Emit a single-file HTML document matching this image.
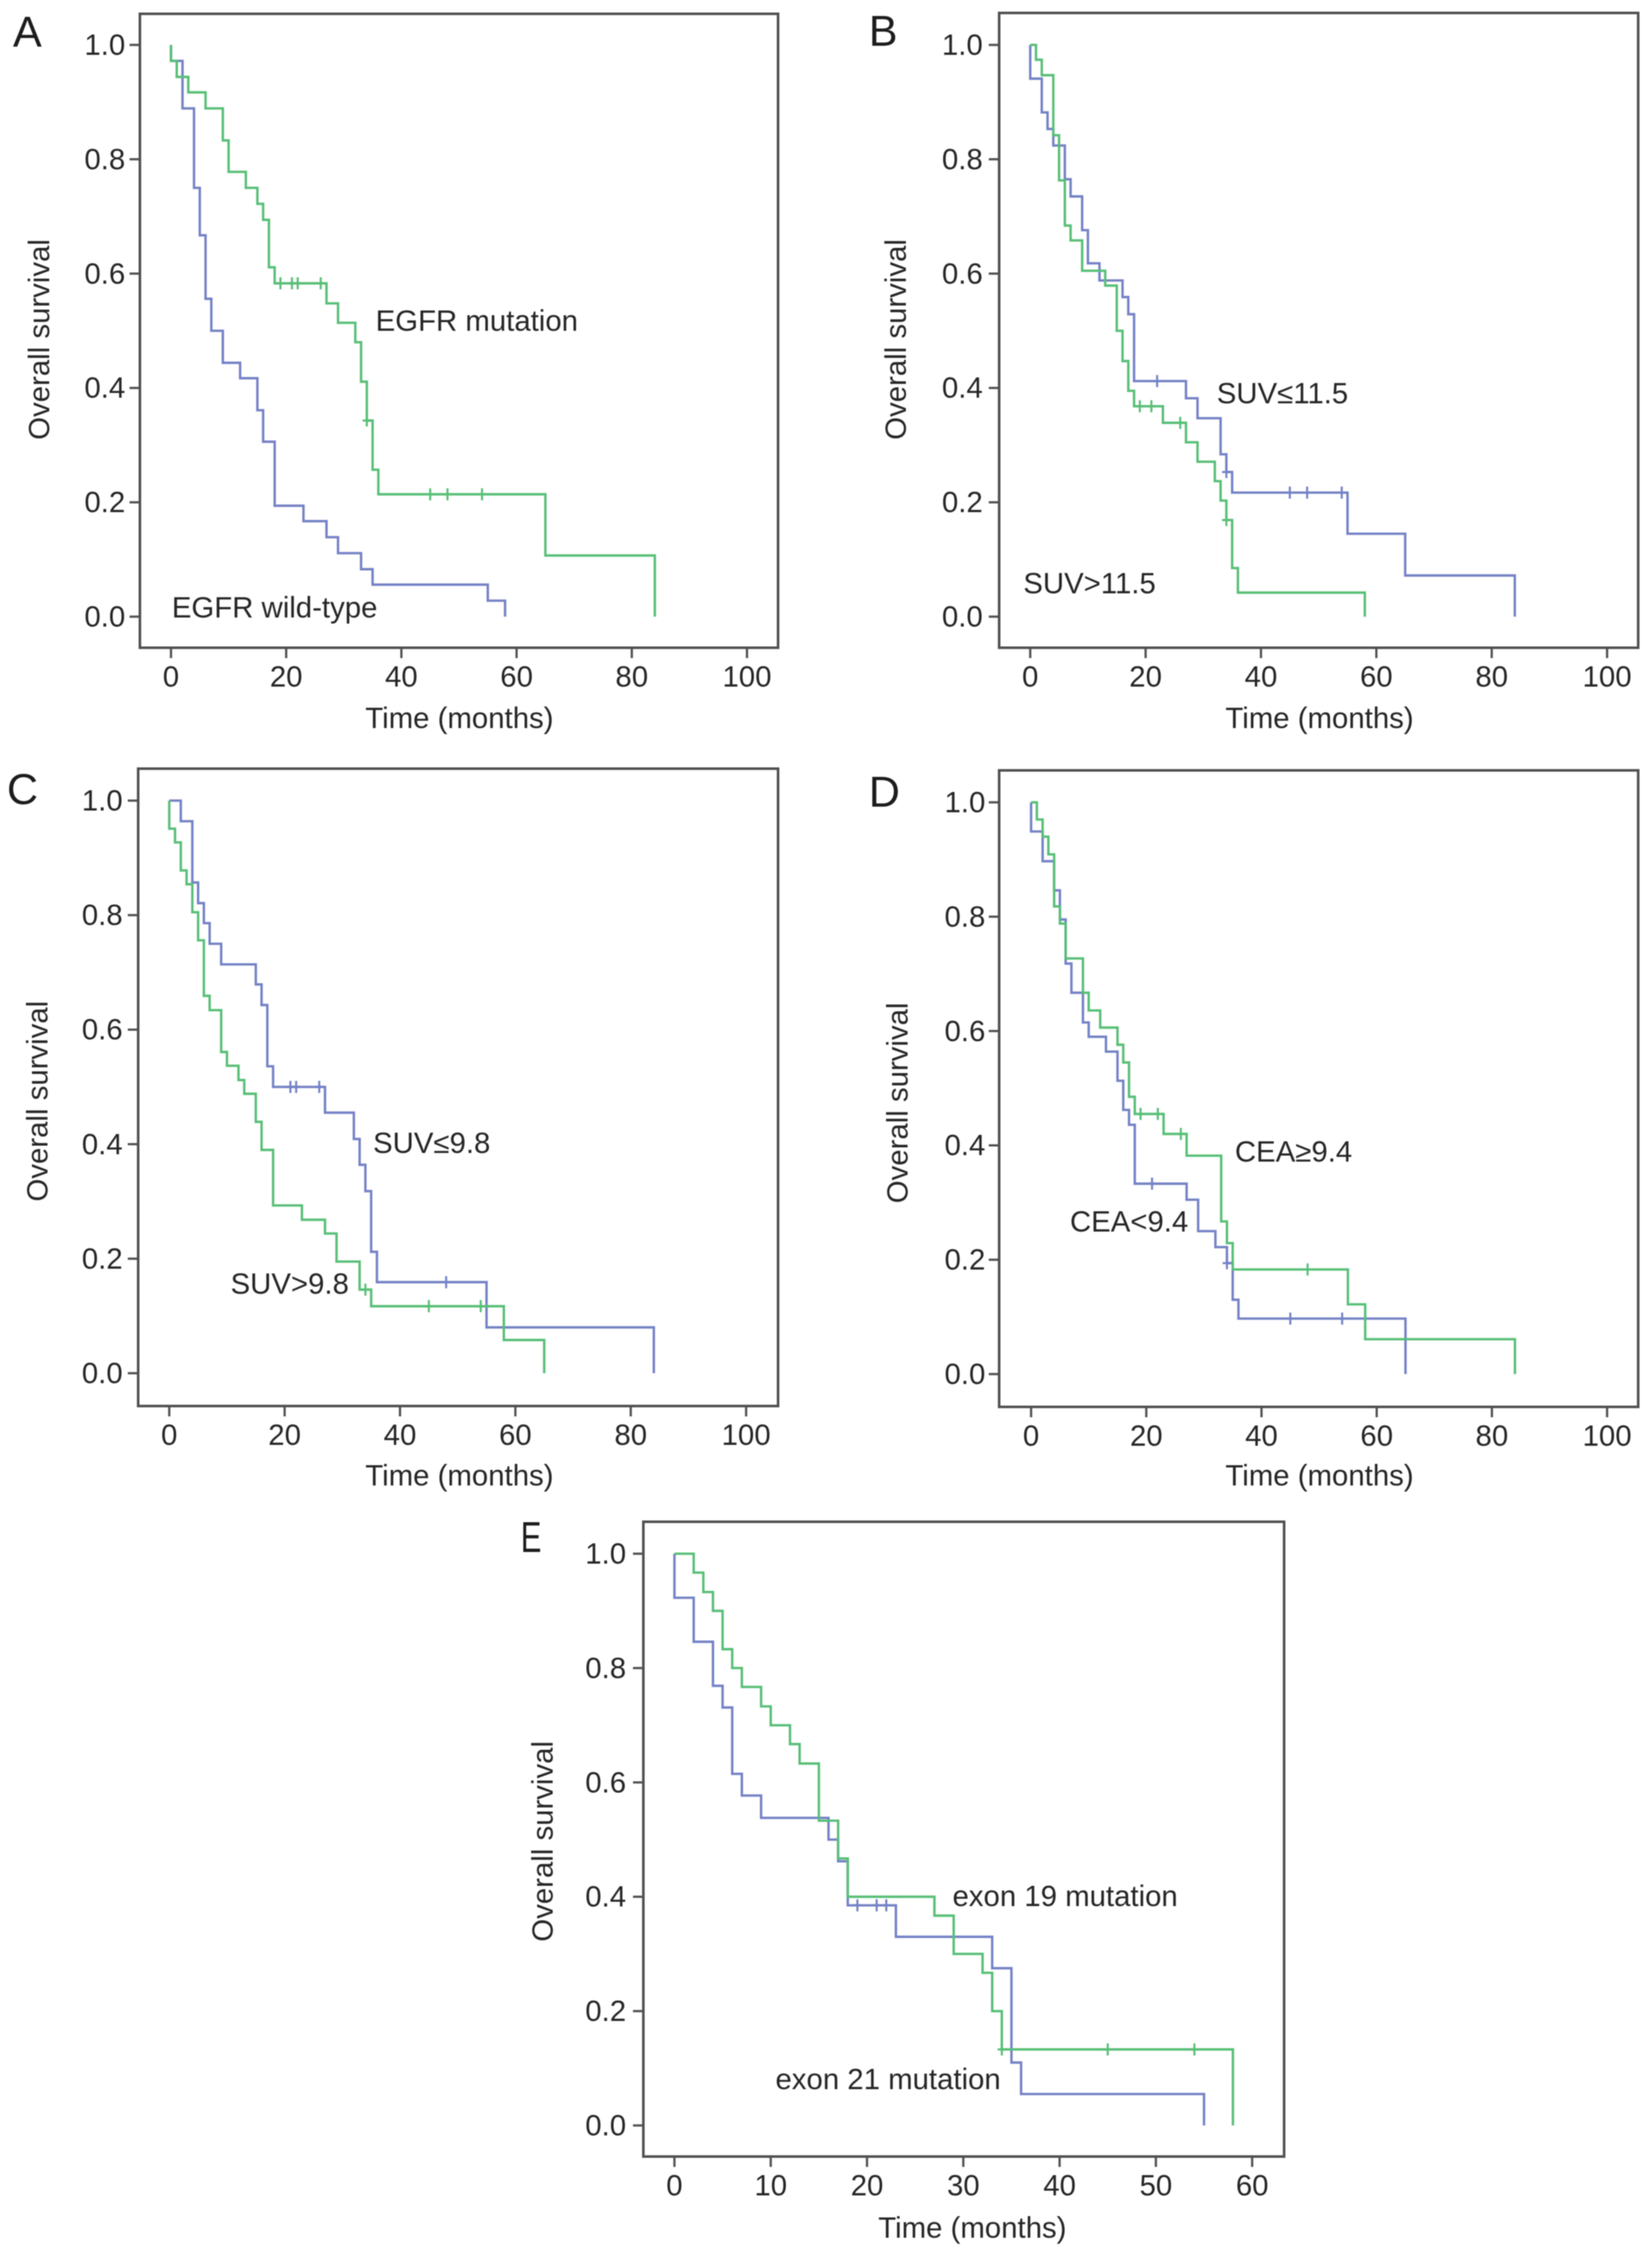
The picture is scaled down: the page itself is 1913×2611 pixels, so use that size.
<!DOCTYPE html>
<html lang="en">
<head>
<meta charset="utf-8">
<title>Overall survival Kaplan-Meier curves</title>
<style>
html,body{margin:0;padding:0;background:#fff;}
svg{display:block;filter:blur(0.55px);}
text{font-family:"Liberation Sans",sans-serif;fill:#262626;font-size:34px;}
.letter{font-size:50px;fill:#1c1c1c;}
.frame{fill:none;stroke:#505050;stroke-width:3;}
.tick{stroke:#505050;stroke-width:2.6;}
.curve{fill:none;stroke-width:2.8;stroke-linejoin:miter;}
.censor{fill:none;stroke-width:2.4;}
.green{stroke:#58bf77;}
.blue{stroke:#7482c6;}
</style>
</head>
<body>
<svg id="figure" xmlns="http://www.w3.org/2000/svg" width="1913" height="2611" viewBox="0 0 1913 2611">
  <rect x="0" y="0" width="1913" height="2611" fill="#ffffff"/>

  <g id="panel-a">
    <rect class="frame" x="162" y="16" width="739" height="734"/>
    <text class="letter" x="15" y="54">A</text>
    <text text-anchor="middle" transform="translate(57,393) rotate(-90)">Overall survival</text>
    <text text-anchor="middle" x="532" y="843">Time (months)</text>
    <text x="435" y="383">EGFR mutation</text>
    <text x="199" y="715">EGFR wild-type</text>
  </g>

  <g id="panel-b">
    <rect class="frame" x="1157" y="15" width="740" height="735"/>
    <text class="letter" x="1006" y="53">B</text>
    <text text-anchor="middle" transform="translate(1049,393) rotate(-90)">Overall survival</text>
    <text text-anchor="middle" x="1528" y="843">Time (months)</text>
    <text x="1409" y="467">SUV≤11.5</text>
    <text x="1185" y="687">SUV&gt;11.5</text>
  </g>

  <g id="panel-c">
    <rect class="frame" x="160" y="890" width="741" height="738"/>
    <text class="letter" x="8" y="931">C</text>
    <text text-anchor="middle" transform="translate(55,1275) rotate(-90)">Overall survival</text>
    <text text-anchor="middle" x="532" y="1720">Time (months)</text>
    <text x="432" y="1335">SUV≤9.8</text>
    <text x="267" y="1498">SUV&gt;9.8</text>
  </g>

  <g id="panel-d">
    <rect class="frame" x="1157" y="892" width="740" height="737"/>
    <text class="letter" x="1006" y="934">D</text>
    <text text-anchor="middle" transform="translate(1051,1277) rotate(-90)">Overall survival</text>
    <text text-anchor="middle" x="1528" y="1720">Time (months)</text>
    <text x="1430" y="1345">CEA≥9.4</text>
    <text x="1239" y="1426">CEA&lt;9.4</text>
  </g>

  <g id="panel-e">
    <rect class="frame" x="745" y="1762" width="742" height="735"/>
    <text class="letter" x="603" y="1797" textLength="24" lengthAdjust="spacingAndGlyphs">E</text>
    <text text-anchor="middle" transform="translate(640,2132) rotate(-90)">Overall survival</text>
    <text text-anchor="middle" x="1126" y="2591">Time (months)</text>
    <text x="1103" y="2207">exon 19 mutation</text>
    <text x="898" y="2419">exon 21 mutation</text>
  </g>
</svg>

<script>
// Shared tick labels
const survivalTicks = [0, 0.2, 0.4, 0.6, 0.8, 1.0];
const timeTicks100 = [0, 20, 40, 60, 80, 100];
const timeTicks60 = [0, 10, 20, 30, 40, 50, 60];

// Panel A
const aGreenTimes = [0, 1, 3, 6, 9, 10, 13, 15, 16, 17, 18, 27, 29, 32, 33, 34, 35, 36, 65, 84];
const aGreenSurvival = [0.972, 0.944, 0.917, 0.889, 0.833, 0.778, 0.75, 0.722, 0.694, 0.611, 0.583, 0.548, 0.514, 0.48, 0.411, 0.343, 0.257, 0.214, 0.107, 0];
const aGreenCensored = [19, 21, 22, 26, 34, 45, 48, 54];
const aBlueTimes = [0, 2, 4, 5, 6, 7, 9, 12, 15, 16, 18, 23, 27, 29, 33, 35, 55, 58];
const aBlueSurvival = [0.972, 0.889, 0.75, 0.667, 0.556, 0.5, 0.444, 0.417, 0.361, 0.306, 0.194, 0.167, 0.139, 0.111, 0.083, 0.056, 0.028, 0];
const aBlueCensored = [];

// Panel B
const bBlueTimes = [0, 2, 3, 4, 6, 7, 9, 10, 12, 16, 17, 18, 27, 29, 33, 34, 35, 55, 65, 84];
const bBlueSurvival = [0.941, 0.882, 0.853, 0.824, 0.765, 0.735, 0.676, 0.618, 0.588, 0.559, 0.529, 0.412, 0.382, 0.347, 0.284, 0.253, 0.217, 0.145, 0.072, 0];
const bBlueCensored = [22, 34, 45, 48, 54];
const bGreenTimes = [1, 2, 4, 5, 6, 7, 9, 13, 15, 16, 17, 18, 23, 27, 29, 32, 33, 34, 35, 36, 58];
const bGreenSurvival = [0.974, 0.947, 0.842, 0.763, 0.684, 0.658, 0.605, 0.579, 0.5, 0.447, 0.395, 0.368, 0.339, 0.305, 0.271, 0.237, 0.203, 0.169, 0.085, 0.042, 0];
const bGreenCensored = [19, 21, 26, 34];

// Panel C
const cBlueTimes = [2, 4, 5, 6, 7, 9, 15, 16, 17, 18, 27, 32, 33, 34, 35, 36, 55, 84];
const cBlueSurvival = [0.964, 0.857, 0.821, 0.786, 0.75, 0.714, 0.679, 0.643, 0.536, 0.5, 0.455, 0.409, 0.364, 0.318, 0.212, 0.159, 0.08, 0];
const cBlueCensored = [21, 22, 26, 48];
const cGreenTimes = [0, 1, 2, 3, 4, 5, 6, 7, 9, 10, 12, 13, 15, 16, 18, 23, 27, 29, 33, 35, 58, 65];
const cGreenSurvival = [0.951, 0.927, 0.878, 0.854, 0.805, 0.756, 0.659, 0.634, 0.561, 0.537, 0.512, 0.488, 0.439, 0.39, 0.293, 0.268, 0.244, 0.195, 0.146, 0.117, 0.058, 0];
const cGreenCensored = [34, 45, 54];

// Panel D
const dGreenTimes = [1, 2, 3, 4, 5, 6, 9, 10, 12, 15, 16, 17, 18, 23, 27, 33, 34, 35, 55, 58, 84];
const dGreenSurvival = [0.97, 0.94, 0.909, 0.818, 0.788, 0.727, 0.667, 0.636, 0.606, 0.576, 0.545, 0.485, 0.455, 0.42, 0.382, 0.267, 0.229, 0.183, 0.122, 0.061, 0];
const dGreenCensored = [19, 22, 26, 48];
const dBlueTimes = [0, 2, 4, 5, 6, 7, 9, 10, 13, 15, 16, 17, 18, 27, 29, 32, 34, 35, 36, 65];
const dBlueSurvival = [0.949, 0.897, 0.846, 0.795, 0.718, 0.667, 0.615, 0.59, 0.564, 0.513, 0.462, 0.436, 0.333, 0.305, 0.25, 0.222, 0.194, 0.13, 0.097, 0];
const dBlueCensored = [21, 34, 45, 54];

// Panel E
const eGreenTimes = [2, 3, 4, 5, 6, 7, 9, 10, 12, 13, 15, 17, 18, 27, 29, 32, 33, 34, 58];
const eGreenSurvival = [0.967, 0.933, 0.9, 0.833, 0.8, 0.767, 0.733, 0.7, 0.667, 0.633, 0.533, 0.467, 0.4, 0.367, 0.3, 0.267, 0.2, 0.133, 0];
const eGreenCensored = [34, 45, 54];
const eBlueTimes = [0, 2, 4, 5, 6, 7, 9, 16, 17, 18, 23, 33, 35, 36, 55];
const eBlueSurvival = [0.923, 0.846, 0.769, 0.731, 0.615, 0.577, 0.538, 0.5, 0.462, 0.385, 0.33, 0.275, 0.11, 0.055, 0];
const eBlueCensored = [19, 21, 22];

const SVG_NS = 'http://www.w3.org/2000/svg';

function survivalAt(times, survival, t) {
  let value = 1;
  for (let i = 0; i < times.length; i++) {
    if (times[i] <= t) value = survival[i];
  }
  return value;
}

function drawCurve(group, prefix, colorName, cls, times, survival, censored, xScale, yScale) {
  const path = document.createElementNS(SVG_NS, 'path');
  let d = 'M' + xScale(0) + ' ' + yScale(1);
  for (let i = 0; i < times.length; i++) {
    d += ' H' + xScale(times[i]) + ' V' + yScale(survival[i]);
  }
  path.setAttribute('d', d);
  path.setAttribute('class', 'curve ' + cls);
  
  
  group.appendChild(path);

  censored.forEach(function (t) {
    const px = xScale(t);
    const py = yScale(survivalAt(times, survival, t));
    const mark = document.createElementNS(SVG_NS, 'path');
    mark.setAttribute('d', 'M' + (px - 5) + ' ' + py + ' H' + (px + 5) + ' M' + px + ' ' + (py - 7) + ' V' + (py + 7));
    mark.setAttribute('class', 'censor ' + cls);
    
    
    group.appendChild(mark);
  });
}

function drawAxes(group, prefix, xTicks, yTicks, xScale, yScale, box) {
  xTicks.forEach(function (t) {
    const line = document.createElementNS(SVG_NS, 'line');
    line.setAttribute('x1', xScale(t));
    line.setAttribute('x2', xScale(t));
    line.setAttribute('y1', box.bottom);
    line.setAttribute('y2', box.bottom + 12);
    line.setAttribute('class', 'tick');
    
    
    group.appendChild(line);
    const label = document.createElementNS(SVG_NS, 'text');
    label.setAttribute('x', xScale(t));
    label.setAttribute('y', box.bottom + 45);
    label.setAttribute('text-anchor', 'middle');
    
    
    label.textContent = String(t);
    group.appendChild(label);
  });
  yTicks.forEach(function (v) {
    const line = document.createElementNS(SVG_NS, 'line');
    line.setAttribute('x1', box.left - 12);
    line.setAttribute('x2', box.left);
    line.setAttribute('y1', yScale(v));
    line.setAttribute('y2', yScale(v));
    line.setAttribute('class', 'tick');
    
    
    group.appendChild(line);
    const label = document.createElementNS(SVG_NS, 'text');
    label.setAttribute('x', box.labelRight);
    label.setAttribute('y', yScale(v) + 11.5);
    label.setAttribute('text-anchor', 'end');
    
    
    label.textContent = v.toFixed(1);
    group.appendChild(label);
  });
}

function linear(d0, d1, r0, r1) {
  return function (v) { return r0 + (v - d0) * (r1 - r0) / (d1 - d0); };
}

function panel(prefix, box, xTicks, series) {
  const group = document.getElementById('panel-' + prefix);
  const xScale = linear(xTicks[0], xTicks[xTicks.length - 1], box.x0, box.x1);
  const yScale = linear(0, 1, box.y0, box.y1);
  drawAxes(group, 'panel-' + prefix, xTicks, survivalTicks, xScale, yScale, box);
  series.forEach(function (s) {
    drawCurve(group, 'panel-' + prefix, s[0], s[0], s[1], s[2], s[3], xScale, yScale);
  });
}

panel('a', {left: 162, bottom: 750, labelRight: 145, x0: 198, x1: 865, y0: 714, y1: 52}, timeTicks100, [
  ['blue', aBlueTimes, aBlueSurvival, aBlueCensored],
  ['green', aGreenTimes, aGreenSurvival, aGreenCensored]
]);
panel('b', {left: 1157, bottom: 750, labelRight: 1138, x0: 1193, x1: 1861, y0: 714, y1: 52}, timeTicks100, [
  ['blue', bBlueTimes, bBlueSurvival, bBlueCensored],
  ['green', bGreenTimes, bGreenSurvival, bGreenCensored]
]);
panel('c', {left: 160, bottom: 1628, labelRight: 142, x0: 196, x1: 864, y0: 1590, y1: 927}, timeTicks100, [
  ['blue', cBlueTimes, cBlueSurvival, cBlueCensored],
  ['green', cGreenTimes, cGreenSurvival, cGreenCensored]
]);
panel('d', {left: 1157, bottom: 1629, labelRight: 1141, x0: 1194, x1: 1861, y0: 1591, y1: 929}, timeTicks100, [
  ['blue', dBlueTimes, dBlueSurvival, dBlueCensored],
  ['green', dGreenTimes, dGreenSurvival, dGreenCensored]
]);
panel('e', {left: 745, bottom: 2497, labelRight: 725, x0: 781, x1: 1450, y0: 2461, y1: 1799}, timeTicks60, [
  ['blue', eBlueTimes, eBlueSurvival, eBlueCensored],
  ['green', eGreenTimes, eGreenSurvival, eGreenCensored]
]);
</script>
</body>
</html>
